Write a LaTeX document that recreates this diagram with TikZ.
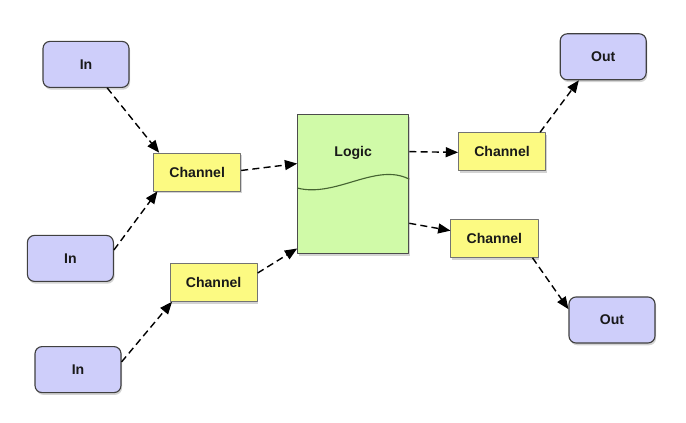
\documentclass[tikz,border=0pt]{standalone}
\usepackage{fontspec}
\setmainfont{Liberation Sans}
\usepackage{pgf,tikz}
\usetikzlibrary{arrows,shadows}

\definecolor{iofill}{RGB}{206,206,250}
\definecolor{chanfill}{RGB}{252,250,130}
\definecolor{logicfill}{RGB}{208,250,168}
\definecolor{wavecol}{RGB}{70,100,50}

\tikzset{
  boxtext/.style={font=\bfseries\fontsize{10}{12}\selectfont, text=black!90},
  boxshadow/.style={drop shadow={shadow xshift=0.8pt, shadow yshift=-1.6pt, opacity=0.35}},
  iobox/.style={boxtext, boxshadow, draw=black!75, line width=0.8pt, fill=iofill,
    rounded corners=5pt, minimum width=2.15cm, minimum height=1.15cm},
  chanbox/.style={boxtext, boxshadow, draw=black!55, line width=0.6pt, fill=chanfill,
    minimum width=2.18cm, minimum height=0.95cm},
  logicbox/.style={boxshadow, draw=black!70, line width=0.7pt, fill=logicfill,
    minimum width=2.78cm, minimum height=3.48cm},
  flow/.style={->, dash pattern=on 5pt off 3pt, line width=1pt}
}

\begin{document}
\begin{tikzpicture}[line cap=butt,line join=round,>=triangle 45,x=1.0cm,y=1.0cm]

\useasboundingbox (0,0) rectangle (17.15,10.55);

% inputs
\node[iobox] (in1) at (2.15,8.94) {In};
\node[iobox] (in2) at (1.76,4.09) {In};
\node[iobox] (in3) at (1.95,1.31) {In};

% channels
\node[chanbox] (ch1) at (4.93,6.25) {Channel};
\node[chanbox] (ch2) at (5.34,3.49) {Channel};
\node[chanbox] (ch3) at (12.55,6.76) {Channel};
\node[chanbox] (ch4) at (12.36,4.59) {Channel};

% logic block
\node[logicbox] (logic) at (8.83,5.95) {};
\node[boxtext] (logiclabel) at ([yshift=-0.98cm]logic.north) {Logic};
\draw[wavecol, line width=0.8pt] ([yshift=-0.1cm]logic.west)
  .. controls (8.4,5.6) and (9.4,6.5) .. ([yshift=0.12cm]logic.east);

% outputs
\node[iobox] (out1) at (15.08,9.13) {Out};
\node[iobox] (out2) at (15.30,2.55) {Out};

% connectors
\draw[flow] (in1.-48) -- (ch1.153);
\draw[flow] (in2.11) -- (ch1.206);
\draw[flow] (in3.10) -- (ch2.205);
\draw[flow] (ch1.2) -- (logic.160);
\draw[flow] (ch2.12) -- (logic.229);
\draw[flow] (logic.30) -- (ch3.181);
\draw[flow] (logic.-35) -- (ch4.170);
\draw[flow] (ch3.27) -- (out1.224);
\draw[flow] (ch4.-27) -- (out2.166);

\end{tikzpicture}
\end{document}
